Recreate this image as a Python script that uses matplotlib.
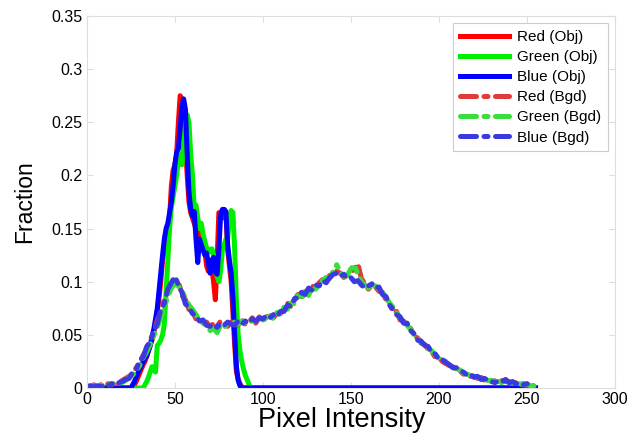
import numpy as np
import matplotlib
matplotlib.use("Agg")
import matplotlib.pyplot as plt

plt.rcParams['font.family'] = ['Liberation Sans', 'DejaVu Sans']

# Object histograms, intensities 20..95 (zero elsewhere)
obj_start = 20
red_obj = [0, 0, 0, 0, 0, 0, 0, 0.003, 0.006, 0.010,
           0.014, 0.018, 0.022, 0.025, 0.030, 0.035, 0.040, 0.045, 0.052, 0.060,
           0.072, 0.085, 0.100, 0.120, 0.130, 0.140, 0.150, 0.160, 0.190, 0.205,
           0.210, 0.220, 0.250, 0.275, 0.272, 0.255, 0.230, 0.200, 0.175, 0.165,
           0.160, 0.155, 0.150, 0.140, 0.148, 0.140, 0.135, 0.130, 0.115, 0.110,
           0.120, 0.112, 0.100, 0.083, 0.120, 0.165, 0.165, 0.160, 0.168, 0.165,
           0.130, 0.115, 0.100, 0.070, 0.040, 0.015, 0.008, 0.004, 0.001, 0,
           0, 0, 0, 0, 0, 0]
green_obj = [0, 0, 0, 0, 0, 0, 0, 0, 0, 0,
             0, 0, 0, 0.003, 0.006, 0.010, 0.015, 0.020, 0.018, 0.015,
             0.040, 0.042, 0.045, 0.050, 0.060, 0.090, 0.120, 0.150, 0.170, 0.180,
             0.190, 0.200, 0.215, 0.220, 0.210, 0.230, 0.250, 0.257, 0.250, 0.220,
             0.200, 0.170, 0.172, 0.160, 0.150, 0.155, 0.145, 0.138, 0.132, 0.130,
             0.128, 0.131, 0.125, 0.120, 0.105, 0.100, 0.110, 0.130, 0.135, 0.140,
             0.140, 0.160, 0.167, 0.165, 0.130, 0.080, 0.050, 0.035, 0.025, 0.018,
             0.012, 0.008, 0.004, 0, 0, 0]
blue_obj = [0, 0, 0, 0, 0, 0, 0.003, 0.006, 0.010, 0.014,
            0.018, 0.021, 0.025, 0.028, 0.030, 0.035, 0.040, 0.048, 0.055, 0.065,
            0.075, 0.092, 0.110, 0.125, 0.140, 0.150, 0.155, 0.165, 0.175, 0.190,
            0.210, 0.222, 0.225, 0.245, 0.265, 0.272, 0.262, 0.220, 0.185, 0.168,
            0.162, 0.166, 0.140, 0.118, 0.140, 0.135, 0.130, 0.125, 0.127, 0.118,
            0.108, 0.120, 0.123, 0.110, 0.107, 0.130, 0.163, 0.168, 0.168, 0.166,
            0.135, 0.120, 0.108, 0.085, 0.050, 0.020, 0.007, 0.002, 0, 0,
            0, 0, 0, 0, 0, 0]

# Background histograms, intensities 0,2,...,254
red_bgd = [0.002, 0.001, 0.003, 0.001, 0.003, 0.002, 0.004, 0.003, 0.005, 0.004,
           0.007, 0.009, 0.011, 0.013, 0.019, 0.024, 0.031, 0.036, 0.046, 0.051,
           0.064, 0.071, 0.083, 0.090, 0.097, 0.100, 0.101, 0.087, 0.083, 0.074,
           0.072, 0.065, 0.066, 0.061, 0.062, 0.057, 0.061, 0.058, 0.063, 0.060,
           0.058, 0.062, 0.061, 0.059, 0.064, 0.060, 0.062, 0.066, 0.061, 0.067,
           0.063, 0.067, 0.069, 0.066, 0.070, 0.070, 0.075, 0.080, 0.076, 0.083,
           0.088, 0.086, 0.093, 0.089, 0.096, 0.094, 0.099, 0.102, 0.100, 0.106,
           0.104, 0.110, 0.108, 0.104, 0.106, 0.108, 0.112, 0.117, 0.103, 0.098,
           0.093, 0.097, 0.095, 0.091, 0.090, 0.083, 0.080, 0.071, 0.072, 0.064,
           0.063, 0.058, 0.056, 0.049, 0.047, 0.042, 0.041, 0.036, 0.034, 0.029,
           0.029, 0.025, 0.023, 0.021, 0.020, 0.017, 0.016, 0.013, 0.014, 0.011,
           0.011, 0.009, 0.010, 0.007, 0.008, 0.006, 0.007, 0.005, 0.007, 0.006,
           0.006, 0.004, 0.005, 0.003, 0.004, 0.002, 0.003, 0.002]
green_bgd = [0.001, 0.002, 0.002, 0.001, 0.002, 0.003, 0.003, 0.004, 0.004, 0.006,
             0.005, 0.007, 0.010, 0.012, 0.016, 0.021, 0.028, 0.034, 0.041, 0.049,
             0.057, 0.066, 0.076, 0.086, 0.094, 0.098, 0.096, 0.092, 0.084, 0.078,
             0.074, 0.069, 0.065, 0.062, 0.058, 0.054, 0.056, 0.052, 0.059, 0.057,
             0.061, 0.058, 0.062, 0.060, 0.063, 0.062, 0.060, 0.064, 0.062, 0.066,
             0.064, 0.066, 0.068, 0.065, 0.071, 0.069, 0.076, 0.074, 0.080, 0.079,
             0.087, 0.083, 0.091, 0.087, 0.095, 0.093, 0.098, 0.101, 0.104, 0.103,
             0.110, 0.116, 0.109, 0.105, 0.106, 0.112, 0.116, 0.107, 0.100, 0.097,
             0.094, 0.099, 0.096, 0.093, 0.090, 0.085, 0.080, 0.076, 0.071, 0.066,
             0.062, 0.059, 0.055, 0.050, 0.048, 0.043, 0.042, 0.037, 0.035, 0.031,
             0.028, 0.026, 0.025, 0.021, 0.020, 0.018, 0.017, 0.014, 0.013, 0.012,
             0.010, 0.010, 0.009, 0.008, 0.007, 0.007, 0.006, 0.006, 0.005, 0.007,
             0.005, 0.005, 0.004, 0.004, 0.003, 0.004, 0.002, 0.002]
blue_bgd = [0.001, 0.002, 0.001, 0.002, 0.001, 0.003, 0.002, 0.004, 0.003, 0.005,
            0.006, 0.008, 0.009, 0.015, 0.017, 0.026, 0.029, 0.039, 0.043, 0.054,
            0.060, 0.074, 0.080, 0.093, 0.099, 0.105, 0.097, 0.090, 0.079, 0.076,
            0.070, 0.068, 0.063, 0.064, 0.059, 0.058, 0.060, 0.057, 0.061, 0.059,
            0.062, 0.060, 0.059, 0.063, 0.060, 0.063, 0.061, 0.065, 0.063, 0.066,
            0.065, 0.068, 0.066, 0.069, 0.067, 0.072, 0.072, 0.078, 0.077, 0.084,
            0.085, 0.090, 0.088, 0.094, 0.092, 0.097, 0.096, 0.101, 0.099, 0.104,
            0.107, 0.108, 0.105, 0.107, 0.103, 0.104, 0.100, 0.101, 0.097, 0.094,
            0.096, 0.098, 0.094, 0.095, 0.088, 0.086, 0.078, 0.074, 0.069, 0.067,
            0.061, 0.061, 0.054, 0.051, 0.045, 0.044, 0.040, 0.039, 0.033, 0.032,
            0.027, 0.027, 0.024, 0.022, 0.019, 0.019, 0.016, 0.015, 0.012, 0.013,
            0.010, 0.011, 0.008, 0.009, 0.007, 0.006, 0.005, 0.007, 0.006, 0.008,
            0.005, 0.006, 0.004, 0.005, 0.003, 0.004, 0.003, 0.002]

labels = ["Red (Obj)", "Green (Obj)", "Blue (Obj)", "Red (Bgd)", "Green (Bgd)", "Blue (Bgd)"]
x_ticks = [0, 50, 100, 150, 200, 250, 300]
y_ticks = [0, 0.05, 0.1, 0.15, 0.2, 0.25, 0.3, 0.35]
y_ticklabels = ["0", "0.05", "0.1", "0.15", "0.2", "0.25", "0.3", "0.35"]


def full_obj(vals):
    arr = np.zeros(256)
    arr[obj_start:obj_start + len(vals)] = vals
    return arr


obj_x = np.arange(256)
bgd_x = np.arange(0, 256, 2)

fig = plt.figure(figsize=(6.39, 4.33), dpi=100)
ax = fig.add_axes([0.136, 0.104, 0.826, 0.859])

obj_colors = ["#ff0000", "#00ee00", "#0000ff"]
bgd_colors = ["#e03a3a", "#3ade3a", "#3a3ae0"]

for vals, col, lab in zip([red_obj, green_obj, blue_obj], obj_colors, labels[:3]):
    ax.plot(obj_x, full_obj(vals), color=col, lw=3.6, label=lab, solid_joinstyle='round')
for vals, col, lab in zip([red_bgd, green_bgd, blue_bgd], bgd_colors, labels[3:]):
    ax.plot(bgd_x, vals, color=col, lw=3.6, ls=(0, (3.2, 1.5, 0.8, 1.5)), label=lab,
            dash_capstyle='round')

ax.set_xlim(0, 300)
ax.set_ylim(0, 0.35)
ax.set_xticks(x_ticks)
ax.set_xticklabels([str(t) for t in x_ticks])
ax.set_yticks(y_ticks)
ax.set_yticklabels(y_ticklabels)
ax.tick_params(direction='in', top=True, right=True, color='#dddddd', length=4,
               labelsize=11.5, pad=3)
for sp in ax.spines.values():
    sp.set_color('#dddddd')
    sp.set_linewidth(0.8)

ax.set_xlabel("Pixel Intensity", fontsize=19.5)
ax.xaxis.set_label_coords(0.483, -0.052, transform=ax.transAxes)
ax.xaxis.label.set_va('top')
ax.set_ylabel("Fraction", fontsize=16.5, labelpad=11)

leg = ax.legend(loc='upper right', bbox_to_anchor=(0.9867, 0.981), borderaxespad=0,
                fontsize=11, frameon=True, fancybox=False, edgecolor='#cccccc',
                framealpha=1, handlelength=3.2, handletextpad=0.5, labelspacing=0.4,
                borderpad=0.45)
leg.get_frame().set_linewidth(0.8)

fig.savefig("out.png", dpi=100)
